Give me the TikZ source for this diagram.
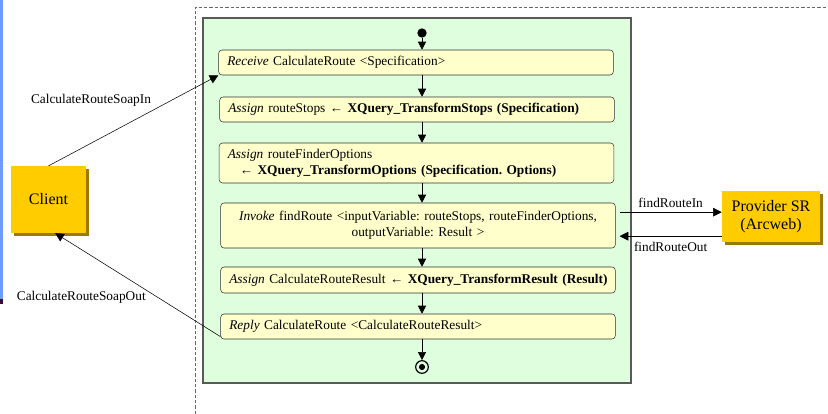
\documentclass[tikz,border=0pt]{standalone}
\usepackage{fontspec}
\setmainfont{Liberation Serif}
\usetikzlibrary{arrows.meta,shadows}
\definecolor{actfill}{HTML}{FFFFCC}
\definecolor{procfill}{HTML}{DEFEDE}
\definecolor{partner}{HTML}{FFCC00}
\definecolor{partnershadow}{HTML}{9C7A00}
\definecolor{slidebar}{HTML}{6F9BFF}
\definecolor{slidemark}{HTML}{3A0A3A}
\frenchspacing
\tikzset{
  act/.style={draw=black!80, fill=actfill, rounded corners=2.5pt, text width=287pt, inner xsep=4.5pt, inner ysep=2pt, align=left},
  partnerbox/.style={fill=partner, font=\large, align=center, drop shadow={opacity=1, fill=partnershadow, shadow xshift=2pt, shadow yshift=-2pt}},
  flow/.style={-{Triangle[length=6pt,width=6pt]}},
  msg/.style={-{Triangle[length=6.5pt,width=6.5pt]}}
}
\begin{document}
\begin{tikzpicture}[x=0.75pt, y=-0.75pt]
	\useasboundingbox (0,0) rectangle (828,414);
	\fill[slidebar] (0,0) rectangle (3,299);
	\fill[slidemark] (0,299) rectangle (3,304);
	\draw[black!60, line width=0.6pt, dash pattern=on 2.5pt off 1.5pt] (195,414) -- (195,7) -- (828,7);
	\draw[fill=procfill, draw=black!65, line width=1pt] (203,18) rectangle (631,383);
	\node[circle, fill=black, inner sep=0pt, minimum size=7pt] (start) at (422,33) {};
	\node[act, minimum height=18.75pt] (recv) at (416,62.5) {\hspace*{2pt}\textit{Receive} CalculateRoute <Specification>};
	\node[act, minimum height=18.75pt] (stops) at (417,109.5) {\hspace*{2pt}\textit{Assign} routeStops ← \textbf{XQuery\_TransformStops (Specification)}};
	\node[act, minimum height=30pt] (opts) at (416.5,163) {\hspace*{2pt}\textit{Assign} routeFinderOptions\\\hspace*{11pt}\textbf{← XQuery\_TransformOptions (Specification. Options)}};
	\node[act, align=center, minimum height=33.75pt] (invk) at (418,225.5) {\textit{Invoke} findRoute <inputVariable: routeStops, routeFinderOptions,\\outputVariable: Result >};
	\node[act, minimum height=19.5pt] (res) at (418,280) {\hspace*{2pt}\textit{Assign} CalculateRouteResult ← \textbf{XQuery\_TransformResult (Result)}};
	\node[act, minimum height=18.75pt] (reply) at (418,326.5) {\hspace*{2pt}\textit{Reply} CalculateRoute <CalculateRouteResult>};
	\node[circle, draw=black, line width=0.9pt, inner sep=0pt, minimum size=9.5pt] (end) at (422,367) {};
	\fill (end) circle (2.3pt);
	\node[partnerbox, minimum width=56pt, minimum height=50pt] (client) at (48.5,199.5) {Client};
	\node[partnerbox, minimum width=73.5pt, minimum height=38pt] (prov) at (771,216.5) {Provider SR\\(Arcweb)};
	\draw[flow] (start) -- (start |- recv.north);
	\draw[flow] (recv.south -| start) -- (stops.north -| start);
	\draw[flow] (stops.south -| start) -- (opts.north -| start);
	\draw[flow] (opts.south -| start) -- (invk.north -| start);
	\draw[flow] (invk.south -| start) -- (res.north -| start);
	\draw[flow] (res.south -| start) -- (reply.north -| start);
	\draw[flow] (reply.south -| start) -- (end.north);
	\draw[msg] (client.north) -- (recv.south west) node[pos=0.725, left=12pt] {CalculateRouteSoapIn};
	\draw[msg] ([yshift=2pt]reply.south west) -- ([xshift=5pt]client.south) node[pos=0.375, left=6pt] {CalculateRouteSoapOut};
	\draw[msg] ([shift={(3pt,10pt)}]invk.east) -- ([yshift=10pt]invk.east -| prov.west) node[midway, above] {findRouteIn};
	\draw[msg] ([yshift=-8pt]invk.east -| prov.west) -- ([shift={(3pt,-8pt)}]invk.east) node[midway, below=1pt] {findRouteOut};
\end{tikzpicture}
\end{document}
